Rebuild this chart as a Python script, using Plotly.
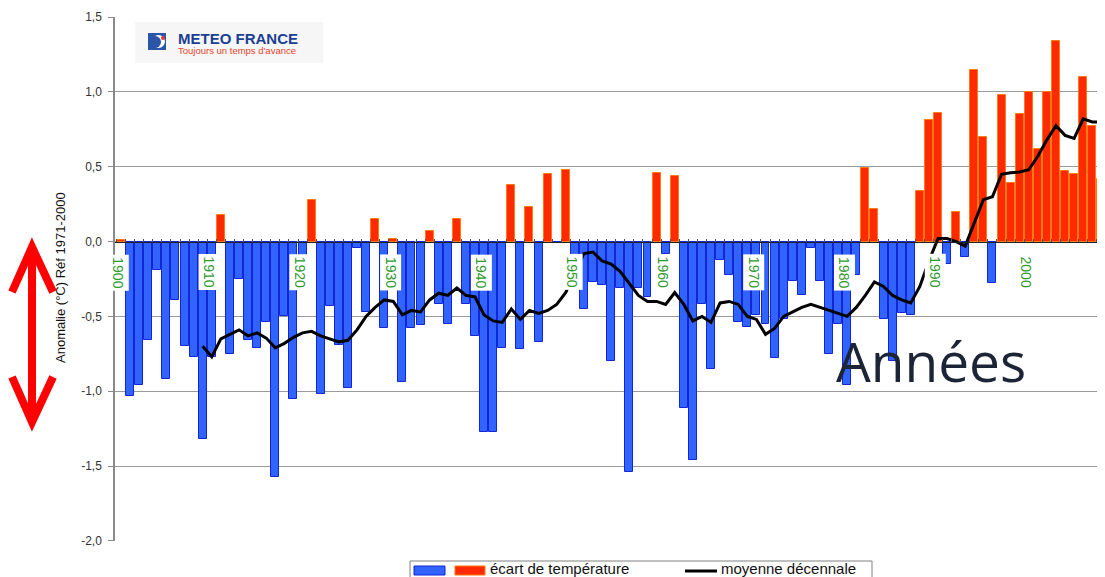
import plotly.graph_objects as go

# ---------------- data ----------------
years = list(range(1900, 2009))
anomalies = [
    0.01, -1.03, -0.96, -0.66, -0.19, -0.92, -0.39, -0.70, -0.77, -1.32,   # 1900-1909
    -0.77, 0.18, -0.75, -0.25, -0.66, -0.71, -0.54, -1.57, -0.50, -1.05,   # 1910-1919
    -0.20, 0.28, -1.02, -0.43, -0.69, -0.98, -0.04, -0.47, 0.15, -0.58,    # 1920-1929
    0.02, -0.94, -0.58, -0.56, 0.07, -0.42, -0.55, 0.15, -0.42, -0.63,     # 1930-1939
    -1.27, -1.27, -0.71, 0.38, -0.72, 0.23, -0.67, 0.45, -0.01, 0.48,      # 1940-1949
    -0.20, -0.45, -0.27, -0.29, -0.80, -0.31, -1.54, -0.31, -0.37, 0.46,   # 1950-1959
    -0.08, 0.44, -1.11, -1.46, -0.42, -0.85, -0.12, -0.22, -0.54, -0.57,   # 1960-1969
    -0.49, -0.55, -0.78, -0.52, -0.26, -0.36, -0.04, -0.26, -0.75, -0.55,  # 1970-1979
    -0.96, -0.22, 0.49, 0.22, -0.52, -0.80, -0.48, -0.49, 0.34, 0.81,      # 1980-1989
    0.86, -0.15, 0.20, -0.10, 1.15, 0.70, -0.28, 0.98, 0.39, 0.85,         # 1990-1999
    1.00, 0.62, 1.00, 1.34, 0.47, 0.45, 1.10, 0.77, 0.42,                  # 2000-2008
]

mean_years = list(range(1909, 2009))
decadal_mean = [
    -0.70,                                                                 # 1909
    -0.77, -0.65, -0.62, -0.59, -0.63, -0.61, -0.645, -0.71, -0.68, -0.64, # 1910-1919
    -0.61, -0.60, -0.63, -0.65, -0.67, -0.66, -0.59, -0.50, -0.44, -0.39,  # 1920-1929
    -0.40, -0.49, -0.46, -0.47, -0.39, -0.345, -0.36, -0.31, -0.36, -0.37, # 1930-1939
    -0.49, -0.53, -0.54, -0.45, -0.52, -0.46, -0.48, -0.46, -0.42, -0.34,  # 1940-1949
    -0.20, -0.08, -0.07, -0.13, -0.15, -0.20, -0.28, -0.36, -0.40, -0.40,  # 1950-1959
    -0.42, -0.34, -0.42, -0.53, -0.50, -0.54, -0.41, -0.40, -0.42, -0.50,  # 1960-1969
    -0.52, -0.62, -0.58, -0.50, -0.47, -0.44, -0.42, -0.44, -0.46, -0.48,  # 1970-1979
    -0.50, -0.44, -0.36, -0.27, -0.30, -0.36, -0.39, -0.41, -0.30, -0.13,  # 1980-1989
    0.02, 0.02, 0.00, -0.03, 0.13, 0.28, 0.30, 0.45, 0.46, 0.465,          # 1990-1999
    0.48, 0.57, 0.68, 0.775, 0.71, 0.69, 0.82, 0.80, 0.80,                 # 2000-2008
]

x_tick_years = [1900, 1910, 1920, 1930, 1940, 1950, 1960, 1970, 1980, 1990, 2000]
x_tick_labels = ["1900", "1910", "1920", "1930", "1940", "1950", "1960", "1970", "1980", "1990", "2000"]
y_tick_values = [1.5, 1.0, 0.5, 0.0, -0.5, -1.0, -1.5, -2.0]
y_tick_labels = ["1,5", "1,0", "0,5", "0,0", "-0,5", "-1,0", "-1,5", "-2,0"]

series_bar_name = "écart de température"
series_line_name = "moyenne décennale"
y_title = "Anomalie (°C) Réf 1971-2000"
big_label = "Années"
logo_title = "METEO FRANCE"
logo_subtitle = "Toujours un temps d'avance"

# ---------------- styling ----------------
# window size and the page's default body margin (the figure starts at 8,8)
WIN_W, WIN_H = 1105, 577
BODY = 8
W, H = WIN_W - BODY, WIN_H - BODY
# plot area in window pixels
PL, PR, PT, PB = 115, 1105, 17, 541

def px(x):
    return (x - PL) / (PR - PL)

def py(y):
    return (PB - y) / (PB - PT)

BLUE_FILL, BLUE_EDGE = "#3163ff", "#1225d8"
RED_FILL, RED_EDGE = "#ff2a00", "#ff7a10"
FONT = "Liberation Sans, Arial"

bar_colors = [RED_FILL if v > 0 else BLUE_FILL for v in anomalies]
bar_edges = [RED_EDGE if v > 0 else BLUE_EDGE for v in anomalies]

fig = go.Figure()
fig.add_trace(go.Bar(
    x=years, y=anomalies, name=series_bar_name, width=0.88,
    marker=dict(color=bar_colors, line=dict(color=bar_edges, width=1)),
    showlegend=False,
))
fig.add_trace(go.Scatter(
    x=mean_years, y=decadal_mean, name=series_line_name, mode="lines",
    line=dict(color="black", width=3), showlegend=False,
))

shapes = []
annotations = []

# x tick labels (rotated, green, white box) sitting below the zero line
for yr, lab in zip(x_tick_years, x_tick_labels):
    annotations.append(dict(
        x=yr - 0.33, y=-0.205, xref="x", yref="y", text=lab, showarrow=False,
        textangle=90, bgcolor="white", borderpad=2,
        font=dict(family=FONT, size=14, color="#2e9a2e"),
        xanchor="center", yanchor="middle",
    ))

# y-axis title
annotations.append(dict(
    x=px(60), y=py(278), xref="paper", yref="paper", text=y_title, showarrow=False,
    textangle=-90, font=dict(family=FONT, size=13, color="#111"),
    xanchor="center", yanchor="middle",
))

# big "Années"
annotations.append(dict(
    x=px(931), y=py(360), xref="paper", yref="paper", text=big_label, showarrow=False,
    font=dict(family="Open Sans", size=55, color="#1c2535"),
    xanchor="center", yanchor="middle",
))

# red double-headed arrow
arrow_path = (
    f"M {px(12)},{py(292)} L {px(32)},{py(247)} L {px(53)},{py(292)} "
    f"M {px(32)},{py(249)} L {px(32)},{py(420)} "
    f"M {px(12)},{py(377)} L {px(32)},{py(422)} L {px(53)},{py(377)}"
)
shapes.append(dict(type="path", xref="paper", yref="paper", path=arrow_path,
                   line=dict(color="#ff0000", width=8)))

# logo
shapes.append(dict(type="rect", xref="paper", yref="paper",
                   x0=px(135), x1=px(323), y0=py(63), y1=py(22),
                   fillcolor="#f6f6f7", line=dict(width=0), layer="below"))
shapes.append(dict(type="rect", xref="paper", yref="paper",
                   x0=px(148), x1=px(166), y0=py(50), y1=py(33),
                   fillcolor="#2a55a8", line=dict(width=0)))
shapes.append(dict(type="circle", xref="paper", yref="paper",
                   x0=px(152), x1=px(165), y0=py(48), y1=py(35),
                   fillcolor="white", line=dict(width=0)))
shapes.append(dict(type="circle", xref="paper", yref="paper",
                   x0=px(149), x1=px(161), y0=py(48), y1=py(36),
                   fillcolor="#2a55a8", line=dict(width=0)))
shapes.append(dict(type="circle", xref="paper", yref="paper",
                   x0=px(161), x1=px(165), y0=py(40), y1=py(36),
                   fillcolor="#e03a2a", line=dict(width=0)))
annotations.append(dict(
    x=px(176), y=py(43), xref="paper", yref="paper",
    text=(f"<span style='font-size:15px;color:#1b3f94'><b>{logo_title}</b></span><br>"
          f"<span style='font-size:9.5px;color:#e4432d'>{logo_subtitle}</span>"),
    showarrow=False, xanchor="left", yanchor="middle", align="left",
    font=dict(family=FONT, size=8, color="#1b3f94"),
))

# legend (drawn manually to match the wide swatches)
shapes.append(dict(type="rect", xref="paper", yref="paper",
                   x0=px(410), x1=px(872), y0=py(592), y1=py(561),
                   fillcolor="white", line=dict(color="#808080", width=1)))
shapes.append(dict(type="rect", xref="paper", yref="paper",
                   x0=px(414), x1=px(445), y0=py(575), y1=py(566),
                   fillcolor=BLUE_FILL, line=dict(color=BLUE_EDGE, width=1)))
shapes.append(dict(type="rect", xref="paper", yref="paper",
                   x0=px(455), x1=px(485), y0=py(575), y1=py(566),
                   fillcolor=RED_FILL, line=dict(color=RED_EDGE, width=1)))
shapes.append(dict(type="line", xref="paper", yref="paper",
                   x0=px(685), x1=px(717), y0=py(571), y1=py(571),
                   line=dict(color="black", width=3)))
annotations.append(dict(
    x=px(488), y=py(568.5), xref="paper", yref="paper", text=series_bar_name,
    showarrow=False, xanchor="left", yanchor="middle",
    font=dict(family=FONT, size=15, color="#111"),
))
annotations.append(dict(
    x=px(719), y=py(568.5), xref="paper", yref="paper", text=series_line_name,
    showarrow=False, xanchor="left", yanchor="middle",
    font=dict(family=FONT, size=15, color="#111"),
))

fig.update_layout(
    width=W, height=H,
    margin=dict(l=PL - BODY, r=WIN_W - PR, t=PT - BODY, b=WIN_H - PB, autoexpand=False),
    paper_bgcolor="white", plot_bgcolor="white",
    font=dict(family=FONT, color="#222"),
    showlegend=False,
    bargap=0,
    shapes=shapes,
    annotations=annotations,
    xaxis=dict(
        range=[1899.34, 2008.4], anchor="free", position=2 / 3.5,
        showgrid=False, zeroline=False, showticklabels=False,
        showline=True, linecolor="#222", linewidth=1,
        ticks="inside", ticklen=3, tickcolor="#555", tickwidth=1,
        tick0=1899.5, dtick=1,
    ),
    yaxis=dict(
        range=[-2.001, 1.501], tickvals=y_tick_values, ticktext=y_tick_labels,
        showgrid=True, gridcolor="#9a9a9a", gridwidth=1, zeroline=False,
        showline=True, linecolor="#8a8a8a", linewidth=1.5,
        ticks="outside", ticklen=5, tickcolor="#8a8a8a",
        tickfont=dict(size=12, color="#333"), ticklabelstandoff=4,
    ),
)

fig.write_html("out.html")
